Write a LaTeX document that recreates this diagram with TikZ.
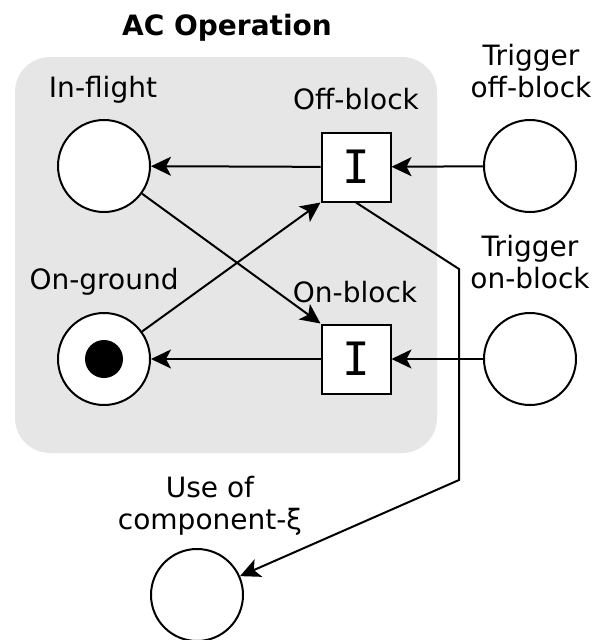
\documentclass[tikz,border=0pt]{standalone}
\usepackage{fontspec}
\setmainfont{DejaVu Sans}
\newfontfamily\transfont{DejaVu Sans Mono}
\usetikzlibrary{arrows.meta,positioning}
\definecolor{boxgray}{RGB}{230,230,230}
\tikzset{
	arc/.style={draw, line width=2pt, -{Stealth[length=20pt,width=19pt,inset=5pt]}},
}

\begin{document}
\begin{tikzpicture}[x=1pt, y=-1pt, line width=2pt]
			\useasboundingbox (0,0) rectangle (601,640);
			\fill[boxgray, rounded corners=35pt] (15,57) rectangle (437,453);
			\node[font=\fontsize{28}{32}\selectfont\bfseries, anchor=base] (title) at (227,35) {AC Operation};
			\begin{scope}[every node/.style={circle,draw,fill=white,minimum size=92pt,inner sep=0pt}]
				\node (inflight) at (104,166) {};
				\node (ongnd) at (104,359) {};
				\node (trigoff) at (530,166) {};
				\node (trigon) at (530,359) {};
				\node (use) at (197,595) {};
			\end{scope}
			\node[circle,fill=black,minimum size=38pt,inner sep=0pt] (token) at (ongnd) {};
			\begin{scope}[every node/.style={rectangle,draw,fill=white,minimum size=69pt,inner sep=0pt,font=\transfont\fontsize{46}{46}\selectfont}]
				\node (offblk) at (356,167) {I};
				\node (onblk) at (356,359) {I};
			\end{scope}
			\begin{scope}[every node/.style={anchor=base,align=center,inner sep=0pt,font=\fontsize{28}{32}\selectfont}]
				\node (lflight) at (103,97) {In-flight};
				\node (lground) at (104,289) {On-ground};
				\node (loff) at (356,109) {Off-block};
				\node (lon) at (355,302) {On-block};
				\node (ltrigoff) at (531,97) {Trigger\\off-block};
				\node (ltrigon) at (530,288) {Trigger\\on-block};
				\node (luse) at (210,529) {Use of\\component-ξ};
			\end{scope}
			\coordinate (bend1) at (459,269);
			\coordinate (bend2) at (459,480);
			\begin{scope}
				\path (offblk)
					edge[arc] (inflight)
					;
				\path (trigoff)
					edge[arc] (offblk)
					;
				\path (onblk)
					edge[arc] (ongnd)
					;
				\path (trigon)
					edge[arc] (onblk)
					;
				\path (ongnd)
					edge[arc] (offblk.south west)
					;
				\path (inflight)
					edge[arc] (onblk.north west)
					;
				\draw[arc] (offblk.south) -- (bend1) -- (bend2) -- (use);
			\end{scope}
		\end{tikzpicture}
\end{document}
